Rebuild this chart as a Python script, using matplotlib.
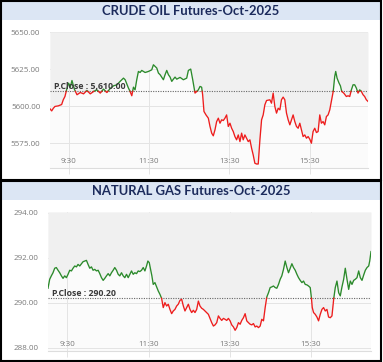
import numpy as np
import matplotlib
matplotlib.use("Agg")
import matplotlib.pyplot as plt
from matplotlib.patches import Rectangle

# ---------------- data ----------------
crude_title = "CRUDE OIL Futures-Oct-2025"
crude_pclose = 5610.00
crude_yticks = [5575, 5600, 5625, 5650]
# minutes after 09:00
crude_t = [2.2, 4.7, 7.2, 9.6, 14.6, 19.6, 22.0, 24.5, 27.0, 30.0,
           32.5, 35.0, 38.5, 42.5, 47.4, 52.3, 57.3, 62.3, 67.2, 72.2,
           77.2, 82.1, 87.1, 92.1, 97.0, 102.0, 106.9, 111.9, 114.4, 116.8,
           119.3, 121.8, 124.3, 126.8, 129.2, 131.7, 134.2, 136.7, 139.2, 144.2,
           149.2, 154.1, 156.6, 159.1, 161.6, 164.1, 166.6, 171.5, 174.0, 176.5,
           179.0, 181.5, 184.0, 186.4, 188.9, 191.4, 196.4, 201.3, 206.3, 208.8,
           212.3, 215.3, 218.7, 221.2, 223.7, 226.2, 228.6, 230.1, 232.1, 235.1,
           238.6, 241.1, 243.6, 246.0, 248.5, 251.0, 253.5, 256.0, 258.5, 260.9,
           263.4, 265.9, 268.4, 270.9, 273.4, 275.8, 278.3, 280.8, 283.3, 285.8,
           288.3, 290.7, 293.2, 295.7, 298.2, 300.7, 303.2, 305.6, 308.1, 310.6,
           313.1, 315.6, 318.1, 320.5, 323.0, 325.5, 330.5, 332.9, 335.4, 337.9,
           340.4, 342.9, 345.4, 347.8, 350.3, 352.8, 355.3, 357.8, 360.3, 362.7,
           365.2, 367.7, 370.2, 372.7, 375.2, 377.6, 380.1, 382.6, 385.1, 387.6,
           390.1, 392.5, 395.0, 397.5, 400.0, 402.5, 405.0, 407.4, 409.9, 412.4,
           414.9, 417.4, 419.9, 422.3, 424.8, 427.3, 428.8, 430.8, 433.8, 435.8,
           437.8, 440.8, 444.7, 447.2, 449.7, 452.2, 454.7, 457.1, 459.6, 462.1,
           464.6, 467.1, 469.6, 472.0, 474.5, 477.0]
crude_v = [5598.2, 5596.8, 5598.6, 5599.8, 5600.2, 5601.1, 5604.3, 5606.5, 5611.0, 5615.5,
           5612.8, 5617.3, 5611.5, 5607.7, 5609.2, 5608.3, 5610.6, 5608.3, 5609.9, 5611.0,
           5608.8, 5611.5, 5609.2, 5611.9, 5613.7, 5614.4, 5616.7, 5618.9, 5617.8, 5615.1,
           5612.2, 5609.9, 5607.0, 5612.8, 5611.0, 5617.8, 5623.4, 5622.7, 5624.1, 5622.7,
           5623.4, 5624.5, 5627.9, 5626.8, 5625.7, 5622.3, 5621.2, 5617.8, 5621.2, 5624.1,
           5621.2, 5619.6, 5616.7, 5618.2, 5619.6, 5618.2, 5619.4, 5617.8, 5618.9, 5624.1,
           5625.0, 5617.8, 5608.8, 5609.9, 5611.0, 5613.3, 5612.8, 5607.7, 5596.4, 5594.1,
           5591.9, 5586.3, 5581.8, 5580.0, 5584.0, 5589.6, 5591.9, 5588.5, 5590.8, 5590.3,
           5591.9, 5594.1, 5586.3, 5588.5, 5585.1, 5582.9, 5579.5, 5577.3, 5580.6, 5576.1,
           5581.8, 5577.3, 5580.6, 5578.4, 5576.1, 5577.3, 5571.6, 5567.1, 5561.5, 5561.0,
           5561.0, 5577.3, 5590.8, 5594.1, 5600.9, 5603.8, 5604.3, 5602.0, 5608.8, 5599.8,
           5595.3, 5598.6, 5597.5, 5604.3, 5606.1, 5604.3, 5595.3, 5590.8, 5587.4, 5590.8,
           5594.1, 5589.6, 5586.3, 5585.1, 5588.5, 5584.0, 5579.5, 5580.6, 5578.4, 5579.5,
           5577.7, 5575.0, 5582.9, 5585.1, 5582.2, 5582.9, 5594.1, 5588.5, 5589.6, 5587.4,
           5593.0, 5594.1, 5597.5, 5603.2, 5608.8, 5620.0, 5623.4, 5618.9, 5615.5, 5613.7,
           5609.9, 5608.8, 5606.5, 5607.0, 5606.5, 5611.0, 5614.4, 5614.4, 5612.2, 5608.8,
           5611.0, 5609.9, 5607.7, 5606.5, 5604.3, 5603.2]

gas_title = "NATURAL GAS Futures-Oct-2025"
gas_pclose = 290.20
gas_yticks = [288, 290, 292, 294]
gas_t = [1.4, 3.9, 6.3, 8.8, 11.3, 13.7, 16.2, 18.7, 21.2, 23.6,
         26.1, 28.6, 31.0, 33.5, 36.0, 38.4, 40.9, 43.4, 45.8, 48.3,
         50.8, 53.2, 55.7, 58.2, 60.6, 63.1, 65.6, 68.0, 70.5, 73.0,
         75.5, 77.9, 80.4, 82.9, 85.3, 87.8, 90.3, 92.7, 95.2, 97.7,
         100.1, 102.6, 105.1, 107.5, 110.0, 112.5, 114.9, 117.4, 119.9, 122.3,
         124.8, 127.3, 129.7, 132.2, 134.7, 137.1, 139.6, 142.1, 144.6, 147.0,
         149.0, 151.0, 153.0, 154.9, 156.9, 159.4, 161.9, 164.3, 166.8, 169.3,
         171.7, 174.2, 176.7, 179.1, 181.6, 184.1, 186.5, 189.0, 191.5, 193.9,
         196.4, 198.9, 201.4, 203.8, 206.3, 208.8, 211.2, 213.7, 216.2, 218.6,
         221.1, 223.6, 226.0, 228.5, 231.0, 233.4, 235.9, 238.4, 240.8, 243.3,
         245.8, 248.2, 250.7, 253.2, 255.6, 258.1, 260.6, 263.0, 265.5, 268.0,
         270.5, 272.9, 275.4, 277.9, 280.3, 282.8, 285.3, 287.7, 290.2, 292.7,
         295.1, 297.6, 300.1, 302.5, 305.0, 307.5, 309.9, 312.4, 314.9, 317.3,
         319.8, 322.3, 324.7, 327.2, 329.7, 332.1, 334.6, 337.1, 339.5, 342.0,
         344.5, 346.9, 349.4, 351.9, 354.4, 356.8, 359.3, 361.8, 364.2, 366.7,
         369.2, 371.6, 374.1, 376.6, 379.0, 381.5, 384.0, 386.4, 388.9, 390.4,
         391.9, 393.8, 396.3, 398.8, 401.2, 403.7, 406.2, 408.6, 411.1, 413.6,
         416.0, 418.5, 421.0, 423.5, 425.9, 428.4, 430.9, 433.3, 435.8, 438.3,
         440.7, 443.2, 445.7, 448.1, 450.6, 453.1, 455.5, 458.0, 460.5, 462.9,
         465.4, 467.9, 470.3, 472.8, 475.3, 476.8, 478.7]
gas_v = [290.64, 291.04, 291.19, 291.33, 291.53, 291.56, 291.44, 291.33, 291.19, 291.08,
         291.19, 291.11, 291.26, 291.44, 291.41, 291.53, 291.63, 291.59, 291.70, 291.63,
         291.73, 291.82, 291.85, 291.88, 291.70, 291.53, 291.59, 291.44, 291.48, 291.41,
         291.44, 291.29, 291.11, 290.99, 291.08, 291.19, 291.29, 291.19, 291.33, 291.44,
         291.56, 291.44, 291.26, 291.19, 291.33, 291.19, 291.11, 291.26, 291.11, 291.26,
         291.41, 291.26, 291.33, 291.29, 291.41, 291.38, 291.44, 291.56, 291.41, 291.63,
         291.85, 291.78, 291.48, 291.19, 290.81, 290.89, 290.70, 290.52, 290.37, 290.19,
         289.78, 290.00, 289.85, 289.93, 289.70, 289.51, 289.63, 289.70, 289.85, 289.93,
         290.10, 290.15, 289.85, 289.63, 289.78, 289.93, 289.70, 289.56, 289.66, 289.56,
         289.70, 290.07, 289.85, 289.75, 289.70, 289.63, 289.56, 289.48, 289.30, 289.11,
         288.96, 289.01, 289.11, 289.41, 289.30, 289.21, 289.30, 289.26, 289.21, 289.30,
         289.19, 289.01, 288.92, 288.77, 288.89, 289.11, 289.04, 289.21, 289.33, 289.51,
         289.19, 289.11, 289.04, 289.01, 289.07, 288.92, 288.96, 288.89, 288.96, 289.26,
         289.19, 289.78, 290.25, 290.44, 290.67, 290.70, 290.74, 290.67, 290.64, 290.81,
         291.04, 291.19, 291.48, 291.85, 291.56, 291.33, 291.53, 291.73, 291.56, 291.44,
         291.26, 291.11, 290.99, 290.89, 290.96, 290.81, 290.79, 290.74, 290.67, 290.30,
         289.78, 289.56, 289.48, 289.36, 289.19, 289.48, 289.70, 289.78, 289.63, 289.70,
         289.36, 289.33, 289.41, 290.15, 290.67, 290.96, 290.44, 290.30, 290.70, 291.04,
         291.53, 291.04, 290.59, 290.96, 290.81, 290.99, 291.04, 291.11, 291.41, 291.11,
         290.99, 291.23, 291.44, 291.56, 291.63, 291.85, 292.27]

xtick_pos = [30, 150, 270, 390]
xtick_labels = ["9:30", "11:30", "13:30", "15:30"]

# ---------------- style ----------------
W, H = 383, 362
GREEN = "#2b8a2b"
RED = "#ee1d1d"
GRID = "#e4e4e4"
LABEL = "#7a7a7a"
TITLE_BG = "#dce6f4"
TITLE_FG = "#1c2b5c"

fig = plt.figure(figsize=(W / 100, H / 100), dpi=100)
fig.patch.set_facecolor("white")


def fx(px):
    return px / W


def fy(py):
    return 1 - py / H


def split_colored(t, v, ref):
    """Insert crossing points so each segment lies entirely on one side."""
    t = np.asarray(t, float)
    v = np.asarray(v, float)
    tt, vv = [t[0]], [v[0]]
    for i in range(1, len(t)):
        a, b = v[i - 1] - ref, v[i] - ref
        if a * b < 0:
            tc = t[i - 1] + (t[i] - t[i - 1]) * a / (a - b)
            tt.append(tc)
            vv.append(ref)
        tt.append(t[i])
        vv.append(v[i])
    tt, vv = np.array(tt), np.array(vv)
    up = np.where(vv >= ref, vv, np.nan)
    dn = np.where(vv <= ref, vv, np.nan)
    return tt, vv, up, dn


def panel(top, title, ax_rect, t, v, pclose, yticks, ylim, pfmt):
    # panel border and title bar
    y0, y1 = top
    fig.add_artist(Rectangle((fx(1), fy(y0 + 19)), fx(380), (19) / H,
                             transform=fig.transFigure, facecolor=TITLE_BG,
                             edgecolor="none", zorder=1))
    fig.add_artist(Rectangle((fx(1), fy(y1)), fx(380), (y1 - y0) / H,
                             transform=fig.transFigure, facecolor="none",
                             edgecolor="black", linewidth=1.5, zorder=5))
    fig.text(fx(191), fy(y0 + 10), title, ha="center", va="center",
             fontsize=9.4, fontweight="bold", color=TITLE_FG,
             family=["Lato", "DejaVu Sans"], zorder=6)

    x0, yb, w, h = ax_rect
    ax = fig.add_axes([fx(x0), fy(yb), fx(w), h / H])
    ax.set_facecolor("#fbfbfb")
    ax.set_xlim(t[0], t[-1])
    ax.set_ylim(*ylim)

    tt, vv, up, dn = split_colored(t, v, pclose)
    ax.fill_between(tt, vv, ylim[1], color="#f0f0f0", linewidth=0, zorder=1)
    ax.plot(tt, up, color=GREEN, linewidth=0.95, zorder=4)
    ax.plot(tt, dn, color=RED, linewidth=0.95, zorder=4)
    ax.axhline(pclose, color="#666666", linestyle=(0, (1, 1.2)),
               linewidth=0.8, zorder=3)
    ax.text(0.012, pclose, "P.Close : " + pfmt.format(pclose),
            transform=ax.get_yaxis_transform(), ha="left", va="bottom",
            fontsize=6.3, fontweight="bold", color="#3a3a3a",
            family=["Open Sans", "DejaVu Sans"], zorder=5)

    ax.set_yticks(yticks)
    ax.set_yticklabels(["{:.2f}".format(y) for y in yticks])
    ax.set_xticks(xtick_pos)
    ax.set_xticklabels(xtick_labels)
    ax.grid(True, color=GRID, linewidth=0.7, zorder=0)
    ax.set_axisbelow(True)
    for s in ["top", "right", "left"]:
        ax.spines[s].set_visible(False)
    ax.spines["bottom"].set_color("#dddddd")
    ax.spines["bottom"].set_linewidth(0.8)
    ax.tick_params(axis="y", length=0, pad=7, labelsize=5.8, labelcolor=LABEL)
    ax.tick_params(axis="x", length=4, width=0.7, color=GRID, direction="out",
                   pad=-11.5, labelsize=5.8, labelcolor=LABEL)
    for lab in ax.get_xticklabels() + ax.get_yticklabels():
        lab.set_family(["Open Sans", "DejaVu Sans"])
    return ax


panel((1, 180), crude_title, (50, 168, 318, 136), crude_t, crude_v,
      crude_pclose, crude_yticks, (5558.3, 5650.0), "{:,.2f}")
panel((181, 361), gas_title, (48, 351, 323, 139), gas_t, gas_v,
      gas_pclose, gas_yticks, (287.85, 294.03), "{:.2f}")

fig.savefig("out.png", dpi=100, facecolor="white")
